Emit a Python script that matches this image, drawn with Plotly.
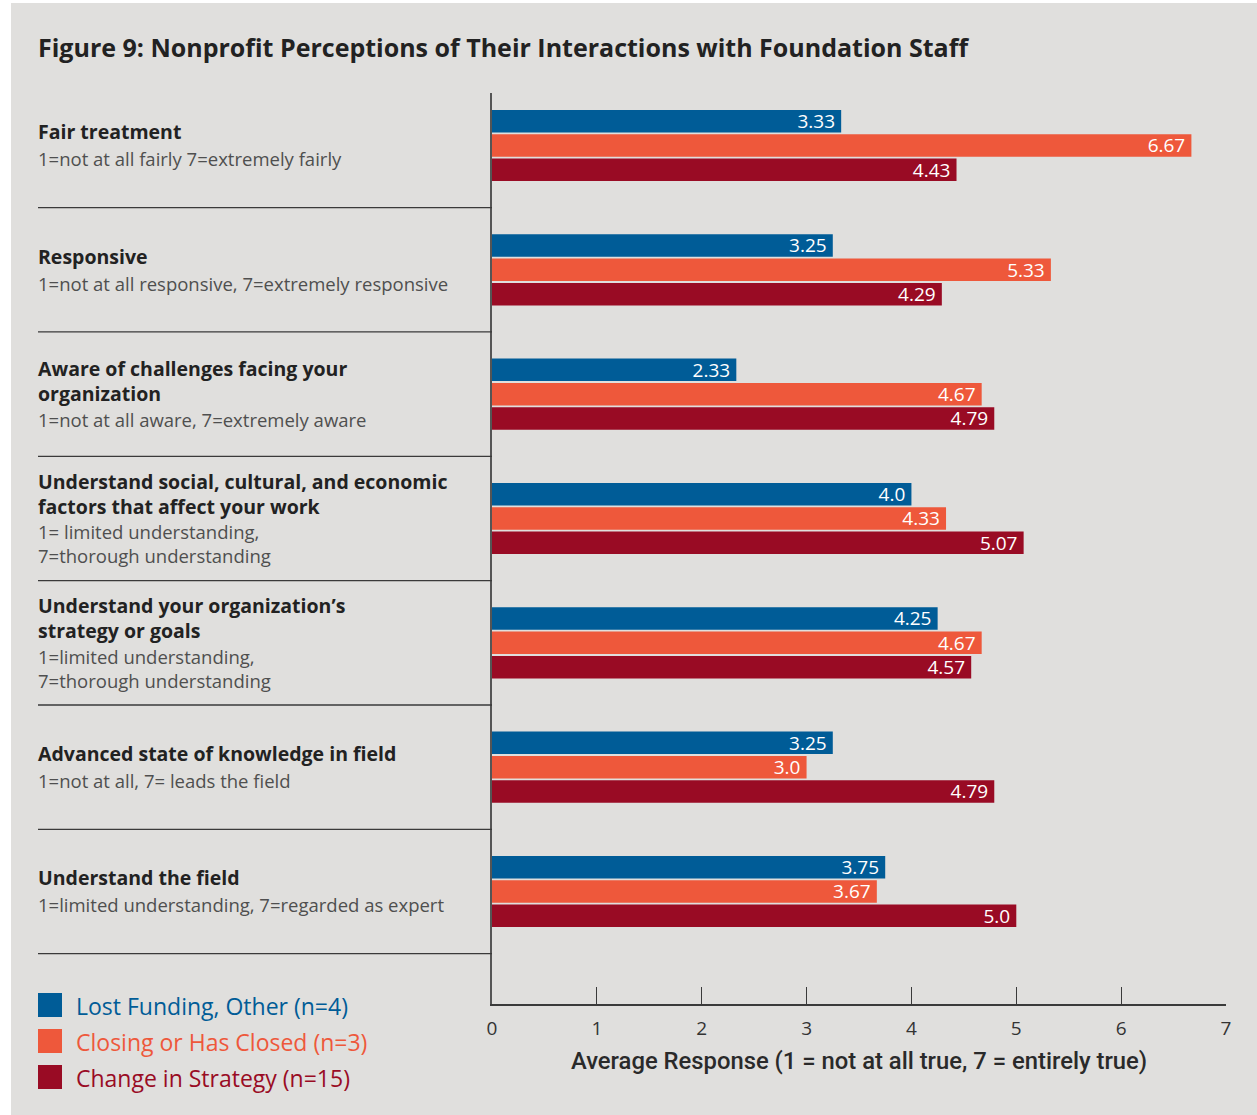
import plotly.graph_objects as go

# ---- data -------------------------------------------------------------
categories = [
    "Fair treatment",
    "Responsive",
    "Aware of challenges facing your organization",
    "Understand social, cultural, and economic factors that affect your work",
    "Understand your organization's strategy or goals",
    "Advanced state of knowledge in field",
    "Understand the field",
]
# label text shown at left of each group (bold heading lines, scale note lines)
heading_lines = [
    ["Fair treatment"],
    ["Responsive"],
    ["Aware of challenges facing your", "organization"],
    ["Understand social, cultural, and economic", "factors that affect your work"],
    ["Understand your organization\u2019s", "strategy or goals"],
    ["Advanced state of knowledge in field"],
    ["Understand the field"],
]
scale_lines = [
    ["1=not at all fairly 7=extremely fairly"],
    ["1=not at all responsive, 7=extremely responsive"],
    ["1=not at all aware, 7=extremely aware"],
    ["1= limited understanding,", "7=thorough understanding"],
    ["1=limited understanding,", "7=thorough understanding"],
    ["1=not at all, 7= leads the field"],
    ["1=limited understanding, 7=regarded as expert"],
]

series_names = [
    "Lost Funding, Other (n=4)",
    "Closing or Has Closed (n=3)",
    "Change in Strategy (n=15)",
]
lost_funding = [3.33, 3.25, 2.33, 4.0, 4.25, 3.25, 3.75]
closing = [6.67, 5.33, 4.67, 4.33, 4.67, 3.0, 3.67]
change_strategy = [4.43, 4.29, 4.79, 5.07, 4.57, 4.79, 5.0]
series_values = [lost_funding, closing, change_strategy]

x_ticks = [0, 1, 2, 3, 4, 5, 6, 7]
x_title = "Average Response (1 = not at all true, 7 = entirely true)"
chart_title = "Figure 9: Nonprofit Perceptions of Their Interactions with Foundation Staff"

# ---- styling ----------------------------------------------------------
colors = ["#005c97", "#ee583b", "#990b24"]
BG = "#e0dfdd"
FONT = "Open Sans"

W, H = 1257, 1115
ML, MR, MT, MB = 492, 31, 93, 111
PW, PH = W - ML - MR, H - MT - MB


def px_x(px):
    """Convert a horizontal page pixel to paper coordinates."""
    return (px - ML) / PW


def px_y(py):
    """Convert a vertical page pixel to paper coordinates."""
    return (H - MB - py) / PH


fig = go.Figure()
for name, vals, col in zip(series_names, series_values, colors):
    fig.add_trace(go.Bar(
        y=categories,
        x=vals,
        name=name,
        orientation="h",
        marker=dict(color=col, line=dict(width=0)),
        text=[f"{v}\u2009" for v in vals],
        textposition="inside",
        insidetextanchor="end",
        constraintext="none",
        textfont=dict(family=FONT, size=19, color="white"),
        cliponaxis=False,
        showlegend=False,
        hoverinfo="x+name",
    ))

shapes = []
annotations = []

# background panel with a thin white border on the page
shapes.append(dict(type="rect", xref="paper", yref="paper",
                   x0=px_x(11), x1=px_x(1262), y0=px_y(1120), y1=px_y(3),
                   fillcolor=BG, line=dict(width=0), layer="below"))

# separators between groups on the label side
for k in range(len(categories)):
    shapes.append(dict(type="line", xref="paper", yref="y",
                       x0=px_x(38), x1=0, y0=k + 0.5, y1=k + 0.5,
                       line=dict(color="#3a3a3a", width=1.3)))

# group labels: a heading block then a scale-note block, centred on the group
HEAD_STEP, GAP, NOTE_STEP = 24, 27, 22.5
for k, (heads, notes) in enumerate(zip(heading_lines, scale_lines)):
    span = HEAD_STEP * (len(heads) - 1) + GAP + NOTE_STEP * (len(notes) - 1)
    top = -span / 2
    head_mid = top + HEAD_STEP * (len(heads) - 1) / 2
    note_top = top + HEAD_STEP * (len(heads) - 1) + GAP
    note_mid = note_top + NOTE_STEP * (len(notes) - 1) / 2
    annotations.append(dict(
        xref="paper", yref="y", x=px_x(38), y=k, xshift=-2, yshift=-head_mid,
        xanchor="left", yanchor="middle", align="left",
        text="<br>".join(heads), showarrow=False,
        font=dict(family=FONT, size=19.5, color="#222222", weight=700),
    ))
    annotations.append(dict(
        xref="paper", yref="y", x=px_x(38), y=k, xshift=-2, yshift=-note_mid,
        xanchor="left", yanchor="middle", align="left",
        text="<br>".join(notes), showarrow=False,
        font=dict(family=FONT, size=18.5, color="#4f4f4f", weight=400),
    ))

# legend drawn as swatches plus coloured labels
for i, (name, col) in enumerate(zip(series_names, colors)):
    cy = 1005 + 36 * i
    shapes.append(dict(type="rect", xref="paper", yref="paper",
                       x0=px_x(38), x1=px_x(62), y0=px_y(cy + 12), y1=px_y(cy - 12),
                       fillcolor=col, line=dict(width=0)))
    annotations.append(dict(
        xref="paper", yref="paper", x=px_x(76), y=px_y(cy + 1), xshift=-2,
        xanchor="left", yanchor="middle", text=name, showarrow=False,
        font=dict(family=FONT, size=23, color=col),
    ))

# x-axis title
annotations.append(dict(
    xref="paper", yref="paper", x=0.5, y=px_y(1061),
    xanchor="center", yanchor="middle", text=x_title, showarrow=False,
    font=dict(family="Roboto", size=23.8, color="#2a2a2a", weight=500),
))

fig.update_layout(
    width=W, height=H,
    margin=dict(l=ML, r=MR, t=MT, b=MB, pad=0),
    paper_bgcolor="white",
    plot_bgcolor=BG,
    barmode="group",
    bargap=0.413,
    bargroupgap=0.075,
    title=dict(text=chart_title, xref="container", yref="container",
               x=38 / W, xanchor="left", y=1 - 48 / H, yanchor="middle",
               font=dict(family=FONT, size=25, color="#222222", weight=700)),
    xaxis=dict(range=[0, 7], tickvals=x_ticks, showgrid=False, zeroline=False,
               showline=True, linecolor="#3a3a3a", linewidth=1.5,
               ticks="inside", ticklen=17, tickwidth=1.3, tickcolor="#3a3a3a",
               tickfont=dict(family=FONT, size=19, color="#333333"),
               ticklabelstandoff=6, fixedrange=True),
    yaxis=dict(type="category", range=[6.905, -0.422], showticklabels=False,
               showgrid=False, zeroline=False, showline=True,
               linecolor="#555555", linewidth=1.5, ticks="", fixedrange=True),
    shapes=shapes,
    annotations=annotations,
)

fig.write_html("out.html")
